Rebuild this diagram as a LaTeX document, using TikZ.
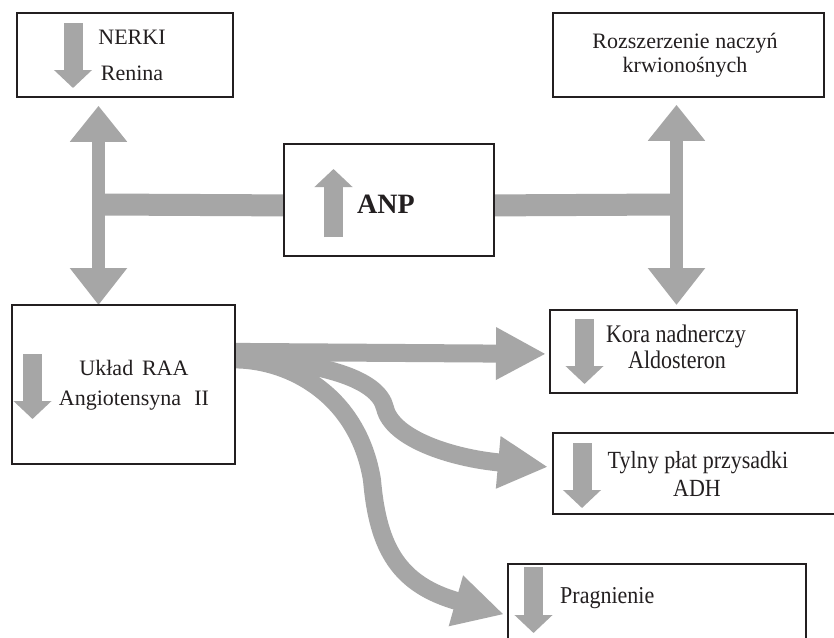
\documentclass[tikz,border=0pt]{standalone}
\usepackage{fontspec}
\setmainfont{Liberation Serif}
\usetikzlibrary{arrows.meta,backgrounds}
\definecolor{flow}{HTML}{A6A6A6}
\definecolor{ink}{HTML}{231F20}
\pgfdeclarelayer{paper}
\pgfsetlayers{paper,background,main}
\begin{document}
\begin{tikzpicture}[x=1pt,y=-1pt,
  box/.style={draw=ink, line width=1.8pt, fill=white, inner sep=0pt, anchor=north west},
  txt/.style={text=ink, font=\fontsize{22pt}{28pt}\selectfont, anchor=base, inner sep=0pt},
  mini/.style={draw=flow, line width=19pt, -{Triangle[length=18pt,width=37pt]}},
  dbl/.style={draw=flow, line width=13pt, {Triangle[length=36pt,width=55pt]}-{Triangle[length=37pt,width=55pt]}},
  bar/.style={draw=flow, line width=22pt},
  flowarrow/.style={draw=flow, line width=18pt, -{Triangle[length=50pt,width=49pt]}}]
\useasboundingbox (0,0) rectangle (834,637);
\clip (0,0) rectangle (834,637);
\begin{pgfonlayer}{paper}
\fill[white] (0,0) rectangle (834,637);
\end{pgfonlayer}

% boxes
\node[box, minimum width=216pt, minimum height=84pt] (nerki) at (16,12) {};
\node[box, minimum width=271pt, minimum height=84pt] (rozsz) at (552,12) {};
\node[box, minimum width=210pt, minimum height=112pt] (anp) at (283,143) {};
\node[box, minimum width=223pt, minimum height=159pt] (raa) at (11,304) {};
\node[box, minimum width=247pt, minimum height=83pt] (kora) at (549,309) {};
\node[box, minimum width=288pt, minimum height=81pt] (tylny) at (552,432) {};
\node[box, minimum width=298pt, minimum height=90pt] (prag) at (507,563) {};

% small arrows inside boxes
\draw[mini] (73,23) -- (73,88);
\draw[mini] (333.5,237) -- (333.5,169);
\draw[mini] (32.5,354) -- (32.5,419);
\draw[mini] (584.5,319) -- (584.5,384);
\draw[mini] (582,443) -- (582,508);
\draw[mini] (533.5,567) -- (533.5,633);

% texts
\node[txt] (t1) at (132,44) {NERKI};
\node[txt] (t2) at (132,80) {Renina};
\node[txt] (t3) at (685,48) {Rozszerzenie naczyń};
\node[txt] (t4) at (685,72) {krwionośnych};
\node[txt, anchor=base west, font=\fontsize{28pt}{32pt}\selectfont\bfseries] (t5) at (357,213) {ANP};
\node[txt] (t6) at (134,375) {Układ\hspace{0.4em}RAA};
\node[txt] (t7) at (134,405) {Angiotensyna\hspace{0.6em}II};
\node[txt] (t8) at (676,342) {\scalebox{1}[1.15]{Kora nadnerczy}};
\node[txt] (t9) at (677,368) {\scalebox{1}[1.15]{Aldosteron}};
\node[txt] (t10) at (698,468) {\scalebox{1}[1.12]{Tylny płat przysadki}};
\node[txt] (t11) at (697,496) {\scalebox{1}[1.12]{ADH}};
\node[txt, anchor=base west] (t12) at (560,603) {\scalebox{1}[1.1]{Pragnienie}};

% connectors (behind the boxes)
\begin{pgfonlayer}{background}
\coordinate (jl) at (98.5,204.5);
\coordinate (jr) at (676.5,204.5);
\draw[bar] ([yshift=-5.5pt]anp.west) -- (jl);
\draw[bar] ([yshift=-5.5pt]anp.east) -- (jr);
\draw[dbl] ([xshift=82.5pt,yshift=-8pt]nerki.south west) -- ([xshift=87.5pt,yshift=-1pt]raa.north west);
\draw[dbl] ([xshift=124.5pt,yshift=-7pt]rozsz.south west) -- ([xshift=127.5pt,yshift=4pt]kora.north west);
\draw[flowarrow] ([yshift=32.5pt]raa.east) -- ([xshift=-3pt,yshift=-2.5pt]kora.west);
\draw[flowarrow] ([yshift=27pt]raa.east) .. controls (320,362) and (378,378) .. (385,408)
   .. controls (392,438) and (450,458) .. ([xshift=-4pt,yshift=6.5pt]tylny.west);
\draw[flowarrow] ([yshift=25pt]raa.east) .. controls (290,360) and (358,395) .. (372,480)
   .. controls (378,550) and (400,585) .. ([xshift=-3pt,yshift=-5.5pt]prag.west);
\end{pgfonlayer}
\end{tikzpicture}
\end{document}
